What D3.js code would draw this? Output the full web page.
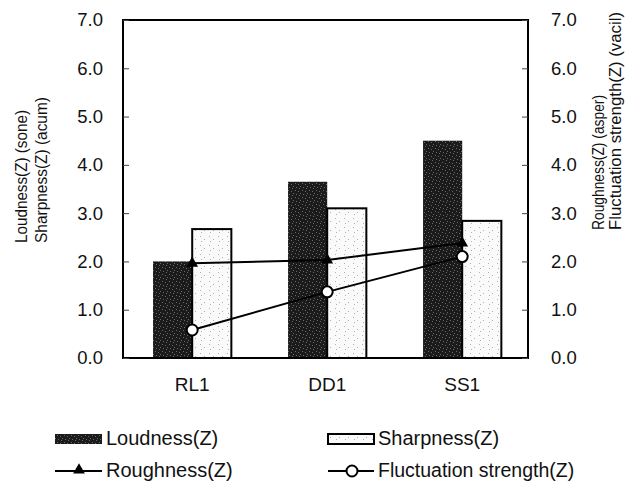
<!DOCTYPE html>
<html>
<head>
<meta charset="utf-8">
<script src="https://cdn.jsdelivr.net/npm/d3@7"></script>
<style>
  html, body { margin: 0; padding: 0; background: #fff; }
  svg { display: block; }
  text { font-family: "Liberation Sans", Arial, sans-serif; fill: #111; }
</style>
</head>
<body>
<svg id="chart" width="637" height="482"></svg>
<script>
// ---- data ----
const categories = ["RL1", "DD1", "SS1"];
const loudness = [2.0, 3.65, 4.5];
const sharpness = [2.67, 3.1, 2.84];
const roughness = [1.96, 2.03, 2.38];
const fluctuation = [0.58, 1.37, 2.1];
const yTicks = [0, 1, 2, 3, 4, 5, 6, 7];
const barSeries = ["Loudness(Z)", "Sharpness(Z)"];
const lineSeries = ["Roughness(Z)", "Fluctuation strength(Z)"];

// ---- layout ----
const svg = d3.select("#chart");
const L = 123, R = 528, T = 20, B = 358;

const defs = svg.append("defs");
// dark texture for loudness
const pd = defs.append("pattern").attr("id", "dark").attr("patternUnits", "userSpaceOnUse")
  .attr("width", 7).attr("height", 7);
pd.append("rect").attr("width", 7).attr("height", 7).attr("fill", "#1b1b1b");
[[1,1],[4,2],[2,5],[6,4],[5,6]].forEach(p => pd.append("rect").attr("x", p[0]).attr("y", p[1])
  .attr("width", 1).attr("height", 1).attr("fill", "#6a6a6a"));
// light texture for sharpness
const pl = defs.append("pattern").attr("id", "light").attr("patternUnits", "userSpaceOnUse")
  .attr("width", 9).attr("height", 9);
pl.append("rect").attr("width", 9).attr("height", 9).attr("fill", "#fafafa");
[[2,2],[6,5],[3,7]].forEach(p => pl.append("rect").attr("x", p[0]).attr("y", p[1])
  .attr("width", 1).attr("height", 1).attr("fill", "#b0b0b0"));

const x0 = d3.scaleBand().domain(categories).range([L, R]).paddingInner(0.42).paddingOuter(0.21).align(0.53);
const x1 = d3.scaleBand().domain(barSeries).range([0, x0.bandwidth()]);
const y = d3.scaleLinear().domain([0, 7]).range([B, T]);
const y2 = d3.scaleLinear().domain([0, 7]).range([B, T]);

// bars
const g = svg.append("g");
categories.forEach((c, i) => {
  g.append("rect")
    .attr("x", x0(c) + x1(barSeries[0]))
    .attr("y", y(loudness[i]))
    .attr("width", x1.bandwidth())
    .attr("height", B - y(loudness[i]))
    .attr("fill", "url(#dark)");
  g.append("rect")
    .attr("x", x0(c) + x1(barSeries[1]))
    .attr("y", y(sharpness[i]))
    .attr("width", x1.bandwidth())
    .attr("height", B - y(sharpness[i]))
    .attr("fill", "url(#light)")
    .attr("stroke", "#000").attr("stroke-width", 2);
});

// frame
svg.append("rect").attr("x", L).attr("y", T).attr("width", R - L).attr("height", B - T)
  .attr("fill", "none").attr("stroke", "#000").attr("stroke-width", 2);

// axes
const axL = d3.axisLeft(y).tickValues(yTicks).tickSize(-6).tickPadding(20).tickFormat(d3.format(".1f"));
const gl = svg.append("g").attr("transform", `translate(${L},0)`).call(axL);
const axR = d3.axisRight(y2).tickValues(yTicks).tickSize(-6).tickPadding(23).tickFormat(d3.format(".1f"));
const gr = svg.append("g").attr("transform", `translate(${R},0)`).call(axR);
[gl, gr].forEach(a => {
  a.select(".domain").remove();
  a.selectAll(".tick line").attr("stroke", "#444").attr("stroke-width", 1);
  a.selectAll(".tick text").style("font-size", "18.5px").attr("fill", "#111")
    .style("font-family", "'Liberation Sans', Arial, sans-serif");
});

// category axis
const axB = d3.axisBottom(x0).tickSize(0).tickPadding(0);
const gb = svg.append("g").attr("transform", `translate(0,${B})`).call(axB);
gb.select(".domain").remove();
gb.selectAll(".tick text").attr("y", 33).attr("dy", 0)
  .style("font-size", "19px").attr("fill", "#111")
  .style("font-family", "'Liberation Sans', Arial, sans-serif");

// lines
const cx = c => x0(c) + x0.bandwidth() / 2;
const line = d3.line().x(d => cx(d.c)).y(d => y2(d.v));
const rData = categories.map((c, i) => ({ c, v: roughness[i] }));
const fData = categories.map((c, i) => ({ c, v: fluctuation[i] }));
svg.append("path").datum(rData).attr("d", line).attr("fill", "none").attr("stroke", "#000").attr("stroke-width", 2);
svg.append("path").datum(fData).attr("d", line).attr("fill", "none").attr("stroke", "#000").attr("stroke-width", 2);
const tri = d3.symbol().type(d3.symbolTriangle).size(60);
svg.selectAll(".tri").data(rData).enter().append("path")
  .attr("transform", d => `translate(${cx(d.c)},${y2(d.v)})`)
  .attr("d", tri).attr("fill", "#000");
svg.selectAll(".circ").data(fData).enter().append("circle")
  .attr("cx", d => cx(d.c)).attr("cy", d => y2(d.v)).attr("r", 5.5)
  .attr("fill", "#fff").attr("stroke", "#000").attr("stroke-width", 2);

// axis titles
const title = (x, yy, t, len) => svg.append("text")
  .attr("transform", `translate(${x},${yy}) rotate(-90)`)
  .attr("text-anchor", "start").style("font-size", "17px")
  .attr("textLength", len).attr("lengthAdjust", "spacingAndGlyphs").text(t);
title(27, 243, "Loudness(Z) (sone)", 133);
title(47, 243, "Sharpness(Z) (acum)", 146);
title(604, 230, "Roughness(Z) (asper)", 135);
title(621, 230, "Fluctuation strength(Z) (vacil)", 218);

// legend
const lg = svg.append("g");
lg.append("rect").attr("x", 55).attr("y", 434).attr("width", 47).attr("height", 10).attr("fill", "url(#dark)");
lg.append("text").attr("x", 106).attr("y", 445).style("font-size", "20px").text(barSeries[0]);
lg.append("rect").attr("x", 328).attr("y", 434).attr("width", 46).attr("height", 10)
  .attr("fill", "url(#light)").attr("stroke", "#000").attr("stroke-width", 2);
lg.append("text").attr("x", 378).attr("y", 445).style("font-size", "20px").text(barSeries[1]);
lg.append("line").attr("x1", 55).attr("x2", 102).attr("y1", 471).attr("y2", 471).attr("stroke", "#000").attr("stroke-width", 2);
lg.append("path").attr("transform", "translate(79,470)").attr("d", tri).attr("fill", "#000");
lg.append("text").attr("x", 106).attr("y", 477).style("font-size", "20px").text(lineSeries[0]);
lg.append("line").attr("x1", 328).attr("x2", 374).attr("y1", 471).attr("y2", 471).attr("stroke", "#000").attr("stroke-width", 2);
lg.append("circle").attr("cx", 352).attr("cy", 471).attr("r", 5.5).attr("fill", "#fff").attr("stroke", "#000").attr("stroke-width", 2);
lg.append("text").attr("x", 378).attr("y", 477).style("font-size", "19.5px").text(lineSeries[1]);
</script>
</body>
</html>
